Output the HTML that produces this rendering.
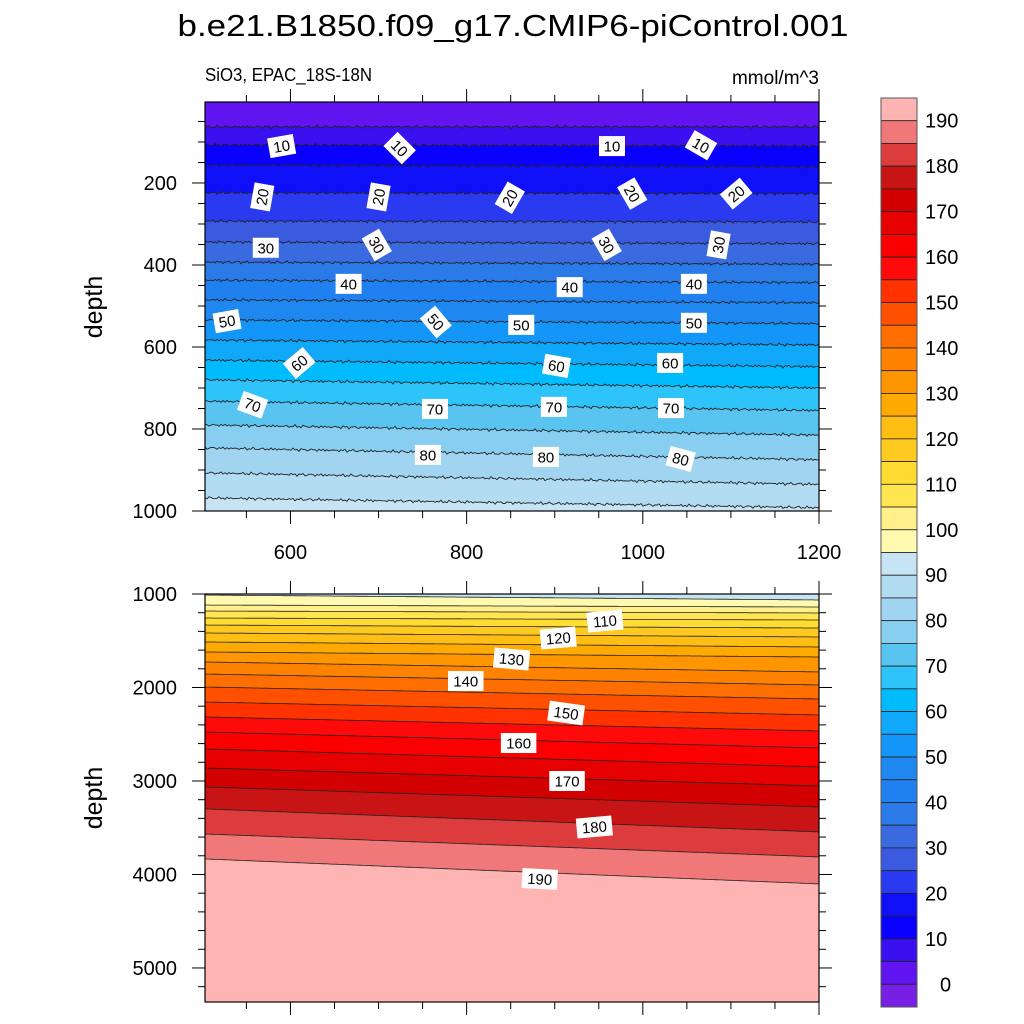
<!DOCTYPE html>
<html><head><meta charset="utf-8"><style>
html,body{margin:0;padding:0;background:#fff;width:1024px;height:1024px;overflow:hidden}
svg{display:block;font-family:"Liberation Sans",sans-serif}
</style></head><body>
<svg id="chart" width="1024" height="1024" viewBox="0 0 1024 1024" xmlns="http://www.w3.org/2000/svg">
<text x="513" y="36" font-size="31" text-anchor="middle" textLength="671" lengthAdjust="spacingAndGlyphs">b.e21.B1850.f09_g17.CMIP6-piControl.001</text>
<text x="205" y="81" font-size="18" textLength="167" lengthAdjust="spacingAndGlyphs">SiO3, EPAC_18S-18N</text>
<text x="819" y="84" font-size="19" text-anchor="end">mmol/m^3</text>
<text transform="translate(102,307) rotate(-90)" font-size="25" text-anchor="middle">depth</text>
<text transform="translate(102,798) rotate(-90)" font-size="25" text-anchor="middle">depth</text>
<g id="top"></g><g id="bot"></g><g id="cbar"></g>
</svg>
<script>
// ---- data ----
const levels = [5,10,15,20,25,30,35,40,45,50,55,60,65,70,75,80,85,90];
const topDepthLeft  = [63,107,156,224,293,344,393,437,485,534,583,632,680,732,790,846,907,968];
const topDepthRight = [63,110,160,226,295,348,398,443,492,543,595,648,700,755,815,875,935,992];
const botLevels = [95,100,105,110,115,120,125,130,135,140,145,150,155,160,165,170,175,180,185,190];
const botDepthLeft  = [1011,1118,1182,1257,1332,1417,1513,1620,1727,1856,1995,2155,2315,2476,2657,2861,3064,3299,3567,3834];
const botDepthRight = [1064,1139,1203,1278,1364,1460,1567,1674,1834,1973,2123,2294,2465,2647,2850,3053,3278,3545,3812,4101];
const colors = ["#781fe6","#6014f0","#3a10f0","#0a00ff","#1010f8","#2a3af0","#3a5ae0","#3a6ae0","#2a7ae8","#2080f0",
"#1e88f0","#1496f8","#10a8f8","#00bcff","#2ec4fa","#5ac4f0","#88cef0","#a0d4f0","#b2dcf2","#c6e4f4",
"#fffab0","#fff08c","#ffe650","#ffdc32","#ffca20","#ffbe14","#ffaa00","#ff9600","#ff8200","#ff6e00",
"#ff5000","#ff3200","#ff0a0a","#fa0000","#e60000","#d20000","#c81414","#dc3c3c","#f07878","#ffb4b4"];
const xTicks = [600,800,1000,1200];
const topYTicks = [200,400,600,800,1000];
const botYTicks = [1000,2000,3000,4000,5000];
const cbarLabels = [0,10,20,30,40,50,60,70,80,90,100,110,120,130,140,150,160,170,180,190];
const topLabelVals = [10,10,10,10,20,20,20,20,20,30,30,30,30,40,40,40,50,50,50,50,60,60,60,70,70,70,70,80,80,80];
const topLabelX = [590,724,965,1066,568,700,849,988,1106,572,698,959,1086,666,917,1058,528,765,862,1058,610,902,1031,557,764,899,1032,756,890,1043];
const topLabelD = [110,115,110,108,234,234,236,226,226,358,351,351,351,446,454,446,537,539,546,541,639,646,639,741,751,746,749,863,868,873];
const topLabelRot = [-10,45,0,30,-80,-80,-60,60,-40,0,60,60,-80,0,0,0,-10,50,0,0,-40,10,0,20,0,0,0,0,0,15];
const botLabelVals = [110,120,130,140,150,160,170,180,190];
const botLabelX = [957,904,851,799,913,859,914,945,883];
const botLabelD = [1289,1471,1695,1931,2273,2594,3000,3492,4048];
const botLabelRot = [-5,-5,5,0,8,0,0,-5,3];

// ---- axes ----
const NS="http://www.w3.org/2000/svg";
const X0=205,X1=819,XMIN=503,XMAX=1200;
const xs=v=>X0+(v-XMIN)*(X1-X0)/(XMAX-XMIN);
const T={y0:102,y1:511,dmin:2.5,dmax:1000};
const B={y0:594,y1:1002,dmin:1000,dmax:5364};
const ys=(p,d)=>p.y0+(d-p.dmin)*(p.y1-p.y0)/(p.dmax-p.dmin);
function mk(tag,attrs,parent){const e=document.createElementNS(NS,tag);for(const k in attrs)e.setAttribute(k,attrs[k]);parent.appendChild(e);return e;}
function wig(x,k,amp){return amp*(Math.sin(x*1.7+k*3.1)*0.6+Math.sin(x*0.63+k)*0.4+Math.sin(x*3.9+k*7)*0.3);}
function linePts(p,dl,dr,k,amp){const pts=[];for(let x=X0;x<=X1+0.1;x+=2){const t=(x-X0)/(X1-X0);let y=ys(p,dl+(dr-dl)*t)+(amp?wig(x,k,amp):0);y=Math.max(p.y0,Math.min(p.y1,y));pts.push([x,y]);}return pts;}
function panel(g,p,lv,dl,dr,firstColorIdx,amp,name){
  const bg=mk('rect',{x:X0,y:p.y0,width:X1-X0,height:p.y1-p.y0,fill:colors[firstColorIdx]},g);
  
  
  const lines=[];
  lv.forEach((L,i)=>{
    const pts=linePts(p,dl[i],dr[i],i,amp);lines.push(pts);
    const d='M'+pts.map(q=>q[0]+','+q[1].toFixed(1)).join('L')+'L'+X1+','+p.y1+'L'+X0+','+p.y1+'Z';
    const poly=mk('path',{d:d,fill:colors[L/5+1]},g);
    
    
  });
  lines.forEach((pts,i)=>{
    const pl=mk('polyline',{points:pts.map(q=>q[0]+','+q[1].toFixed(1)).join(' '),fill:'none',stroke:'#222',"stroke-width":amp?0.9:0.8},g);
    
    
  });
  const fr=mk('rect',{x:X0,y:p.y0,width:X1-X0,height:p.y1-p.y0,fill:'none',stroke:'#000',"stroke-width":1.2},g);
  
  
}
function contourLabels(g,p,vals,xv,dv,rot){
  vals.forEach((v,i)=>{
    const x=xs(xv[i]),y=ys(p,dv[i]);const w=String(v).length*9.5+7;
    const gg=mk('g',{transform:`translate(${x},${y}) rotate(${rot[i]})`},g);
    
    
    mk('rect',{x:-w/2,y:-10,width:w,height:20,fill:'#fff'},gg);
    const t=mk('text',{x:0,y:5.5,"font-size":15,"text-anchor":"middle"},gg);t.textContent=v;
  });
}
function ticks(g,p,yt,yMinorStep,labelX,name){
  for(let v=550;v<=1200;v+=50){const x=xs(v);const M=v%200===0;const len=M?13:7;
    const a=mk('line',{x1:x,x2:x,y1:p.y0,y2:p.y0-len,stroke:'#000'},g);
    const b=mk('line',{x1:x,x2:x,y1:p.y1,y2:p.y1+len,stroke:'#000'},g);}
  for(let d=Math.ceil(p.dmin/yMinorStep)*yMinorStep;d<=p.dmax;d+=yMinorStep){const y=ys(p,d);const M=yt.includes(d);const len=M?13:7;
    const a=mk('line',{x1:X0,x2:X0-len,y1:y,y2:y,stroke:'#000'},g);
    const b=mk('line',{x1:X1,x2:X1+len,y1:y,y2:y,stroke:'#000'},g);}
  yt.forEach(d=>{const t=mk('text',{x:177,y:ys(p,d)+7,"font-size":20,"text-anchor":"end"},g);t.textContent=d;
    });
  if(labelX) xTicks.forEach(v=>{const t=mk('text',{x:xs(v),y:p.y1+48,"font-size":20,"text-anchor":"middle"},g);t.textContent=v;
    });
}
const gt=document.getElementById('top'),gb=document.getElementById('bot'),gc=document.getElementById('cbar');



panel(gt,T,levels,topDepthLeft,topDepthRight,1,1.4,'upper');
contourLabels(gt,T,topLabelVals,topLabelX,topLabelD,topLabelRot);
ticks(gt,T,topYTicks,50,true,'upper');
panel(gb,B,botLevels,botDepthLeft,botDepthRight,19,0,'lower');
contourLabels(gb,B,botLabelVals,botLabelX,botLabelD,botLabelRot);
ticks(gb,B,botYTicks,200,false,'lower');
// colorbar
const CY0=98,CY1=1007,CX=881,CW=36,n=colors.length,bh=(CY1-CY0)/n;
for(let k=0;k<n;k++){const r=mk('rect',{x:CX,y:CY0+k*bh,width:CW,height:bh,fill:colors[n-1-k],stroke:'#222',"stroke-width":0.8},gc);
  }
mk('rect',{x:CX,y:CY0,width:CW,height:CY1-CY0,fill:'none',stroke:'#555',"stroke-width":1},gc);
cbarLabels.forEach(L=>{const j=L/5;const y=CY1-(j+1)*bh;const t=mk('text',{x:L<10?940:925,y:y+7,"font-size":20},gc);t.textContent=L;
  });
</script>
</body></html>
